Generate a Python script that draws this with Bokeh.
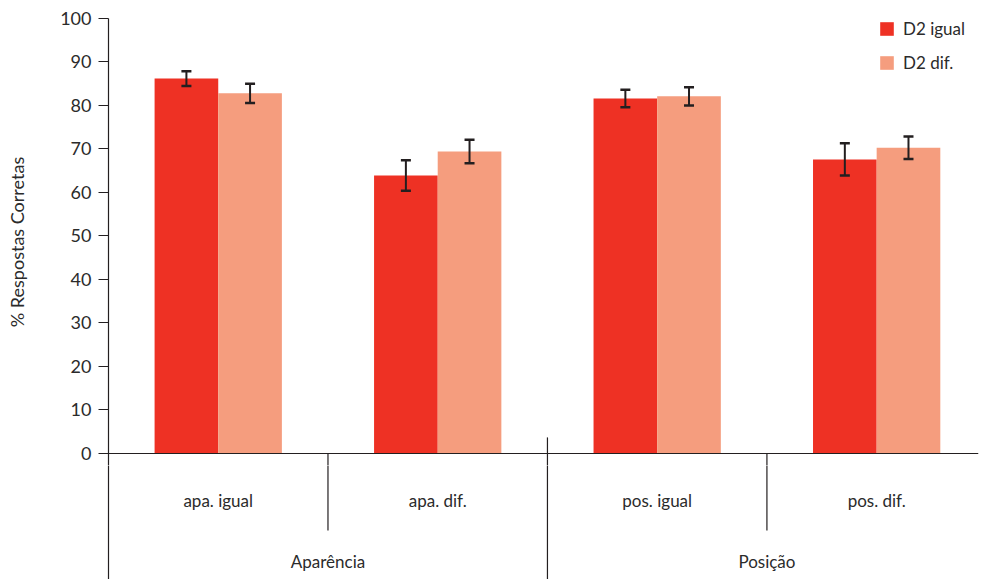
from bokeh.plotting import figure
from bokeh.layouts import column
from bokeh.models import (ColumnDataSource, Whisker, TeeHead, Legend, LegendItem,
                          FixedTicker, Span, Range1d)
from bokeh.core.properties import value
from bokeh.embed import file_html
from bokeh.resources import INLINE

# ---- data ----
conditions = ["apa. igual", "apa. dif.", "pos. igual", "pos. dif."]
groups = ["Aparência", "Posição"]
series = ["D2 igual", "D2 dif."]
d2_igual = [86.2, 63.9, 81.6, 67.6]
d2_igual_err = [1.7, 3.5, 2.0, 3.7]
d2_dif = [82.8, 69.4, 82.1, 70.3]
d2_dif_err = [2.2, 2.7, 2.1, 2.6]
y_ticks = [0, 10, 20, 30, 40, 50, 60, 70, 80, 90, 100]

RED = "#EE3124"
SALMON = "#F59D7E"
INK = "#231F20"
TXT = "#2b2b2b"
FONT = "Lato"

BAR_W = 0.29
OFF = BAR_W / 2

centers = [i + 0.5 for i in range(len(conditions))]
xr = Range1d(0, 3.964)

# ---------------- top: bars ----------------
p = figure(width=982, height=465, output_backend="svg", toolbar_location=None,
           x_range=xr, y_range=Range1d(-2.76, 100),
           x_axis_location=None, min_border_left=108, min_border_right=4,
           min_border_top=18, min_border_bottom=0)
p.outline_line_color = None
p.xgrid.visible = False
p.ygrid.visible = False

src1 = ColumnDataSource(dict(x=[c - OFF for c in centers], top=d2_igual,
                             lo=[v - e for v, e in zip(d2_igual, d2_igual_err)],
                             hi=[v + e for v, e in zip(d2_igual, d2_igual_err)]))
src2 = ColumnDataSource(dict(x=[c + OFF for c in centers], top=d2_dif,
                             lo=[v - e for v, e in zip(d2_dif, d2_dif_err)],
                             hi=[v + e for v, e in zip(d2_dif, d2_dif_err)]))

r1 = p.vbar(x="x", top="top", bottom=0, width=BAR_W, source=src1,
            fill_color=RED, line_color=None)
r2 = p.vbar(x="x", top="top", bottom=0, width=BAR_W, source=src2,
            fill_color=SALMON, line_color=None)

for s in (src1, src2):
    w = Whisker(base="x", lower="lo", upper="hi", source=s, dimension="height",
                level="overlay", line_color=INK, line_width=2,
                upper_head=TeeHead(size=10, line_color=INK, line_width=2.5),
                lower_head=TeeHead(size=10, line_color=INK, line_width=2.5))
    p.add_layout(w)

yax = p.yaxis[0]
yax.ticker = FixedTicker(ticks=y_ticks)
yax.axis_line_color = INK
yax.axis_line_width = 1.2
yax.major_tick_line_color = INK
yax.major_tick_out = 10
yax.major_tick_in = 0
yax.minor_tick_line_color = None
yax.major_label_text_font = FONT
yax.major_label_text_font_size = "18px"
yax.major_label_text_color = TXT
yax.major_label_standoff = 7
yax.axis_label = "% Respostas Corretas"
yax.axis_label_standoff = 29
yax.axis_label_text_font = FONT
yax.axis_label_text_font_size = "18px"
yax.axis_label_text_font_style = "normal"
yax.axis_label_text_color = TXT

# x baseline
p.add_layout(Span(location=0, dimension="width", line_color=INK, line_width=1.2))
# upper parts of the dividers
p.segment(x0=[1, 2, 3], y0=[-4, -4, -4], x1=[1, 2, 3], y1=[0, 3.7, 0],
          line_color=INK, line_width=1.2)

legend = Legend(items=[LegendItem(label=series[0], renderers=[r1]),
                       LegendItem(label=series[1], renderers=[r2])],
                location=(770, 392), glyph_width=17, glyph_height=17,
                label_height=17, spacing=13, padding=0, margin=0,
                label_standoff=8, border_line_color=None,
                background_fill_alpha=0,
                label_text_font=FONT, label_text_font_size="17px",
                label_text_color=TXT)
p.add_layout(legend)

# ---------------- bottom: category labels ----------------
b = figure(width=982, height=114, output_backend="svg", toolbar_location=None,
           x_range=xr, y_range=Range1d(-114, 0),
           x_axis_location=None, min_border_left=108, min_border_right=4,
           min_border_top=0, min_border_bottom=0)
b.outline_line_color = None
b.xgrid.visible = False
b.ygrid.visible = False
bax = b.yaxis[0]
bax.ticker = FixedTicker(ticks=[])
bax.axis_line_color = INK
bax.axis_line_width = 1.2
bax.major_tick_line_color = None
bax.minor_tick_line_color = None
bax.major_label_text_font_size = "0px"

sep_x = [1, 2, 3]
sep_bottom = [-65, -114, -65]
sep_top = [1, 1, 1]
b.segment(x0=sep_x, y0=sep_bottom, x1=sep_x, y1=sep_top, line_color=INK, line_width=1.2)

b.text(x=centers, y=[-35] * 4, text=conditions, text_align="center",
       text_baseline="middle", text_font=value(FONT), text_font_size="17px",
       text_color=TXT)
b.text(x=[1, 3], y=[-96, -96], text=groups, text_align="center",
       text_baseline="middle", text_font=value(FONT), text_font_size="17px",
       text_color=TXT)

layout = column(p, b, spacing=0)
open("out.html", "w").write(file_html(layout, INLINE))
